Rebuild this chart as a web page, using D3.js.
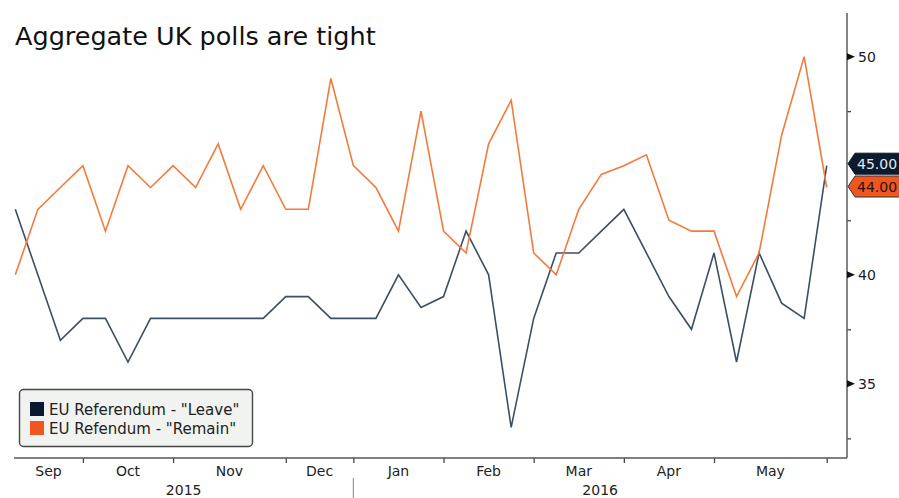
<!DOCTYPE html>
<html>
<head>
<meta charset="utf-8">
<script src="https://cdn.jsdelivr.net/npm/d3@7"></script>
<style>
  body { margin: 0; background: #fff; }
  text { font-family: "DejaVu Sans", Verdana, sans-serif; }
</style>
</head>
<body>
<div id="chart"></div>
<script>
// Weekly poll aggregates, Aug 2015 - May 2016
const leave = [43, 40, 37, 38, 38, 36, 38, 38, 38, 38, 38, 38, 39, 39, 38, 38, 38, 40, 38.5, 39,
  42, 40, 33, 38, 41, 41, 42, 43, 41, 39, 37.5, 41, 36, 41, 38.7, 38, 45];
const remain = [40, 43, 44, 45, 42, 45, 44, 45, 44, 46, 43, 45, 43, 43, 49, 45, 44, 42, 47.5, 42,
  41, 46, 48, 41, 40, 43, 44.6, 45, 45.5, 42.5, 42, 42, 39, 41, 46.4, 50, 44];

// index of first week in each month (tick boundaries)
const monthStarts = [3, 7, 12, 15, 19, 23, 27, 31, 36];
const monthLabels = ["Sep", "Oct", "Nov", "Dec", "Jan", "Feb", "Mar", "Apr", "May"];
const yearLabels = ["2015", "2016"];
const yearStart = 15;

const yMajor = [35, 40, 45, 50];
const yMinor = [32.5, 37.5, 42.5, 47.5];

const seriesNames = ['EU Referendum - "Leave"', 'EU Refendum - "Remain"'];
const lineColors = ["#3b4f65", "#f37a3a"];
const swatchColors = ["#0c1a2e", "#f0561f"];

const w = 899;
const h = 498;
const plotLeft = 14;
const plotRight = 847;
const plotTop = 13;
const plotBottom = 458;

const svg = d3
  .select("#chart")
  .append("svg")
  .attr("width", w)
  .attr("height", h)
  .style("display", "block");

const xScale = d3.scaleLinear().domain([0, 36]).range([15.3, 826.7]);
const yScale = d3.scaleLinear().domain([31.6, 52]).range([plotBottom, plotTop]);

// Title
svg
  .append("text")
  .attr("x", 15)
  .attr("y", 45)
  .style("font-size", "25.5px")
  .style("fill", "#111")
  .text("Aggregate UK polls are tight");

// Lines
const line = d3
  .line()
  .x((d, i) => xScale(i))
  .y((d) => yScale(d));

[leave, remain].forEach((s, k) => {
  svg
    .append("path")
    .datum(s)
    .attr("d", line)
    .attr("fill", "none")
    .attr("stroke", lineColors[k])
    .attr("stroke-width", 1.6)
    .attr("stroke-linejoin", "miter");
});

// Bottom axis
const xAxis = d3
  .axisBottom(xScale)
  .tickValues(monthStarts)
  .tickFormat("")
  .tickSize(5)
  .tickSizeOuter(0);

const gx = svg
  .append("g")
  .attr("transform", `translate(0, ${plotBottom})`)
  .call(xAxis);
gx.select(".domain").remove();
gx.selectAll(".tick line").attr("stroke", "#444").attr("stroke-width", 1.3);

svg
  .append("line")
  .attr("x1", plotLeft)
  .attr("x2", plotRight)
  .attr("y1", plotBottom)
  .attr("y2", plotBottom)
  .attr("stroke", "#555")
  .attr("stroke-width", 1.6);

const bounds = [plotLeft].concat(monthStarts.map((d) => xScale(d)));
monthLabels.forEach((m, i) => {
  svg
    .append("text")
    .attr("x", (bounds[i] + bounds[i + 1]) / 2)
    .attr("y", 476)
    .attr("text-anchor", "middle")
    .style("font-size", "14px")
    .style("fill", "#222")
    .text(m);
});

const yearX = xScale(yearStart);
svg
  .append("line")
  .attr("x1", yearX)
  .attr("x2", yearX)
  .attr("y1", 478)
  .attr("y2", h)
  .attr("stroke", "#999")
  .attr("stroke-width", 1.2);

svg
  .append("text")
  .attr("x", (plotLeft + yearX) / 2)
  .attr("y", 495)
  .attr("text-anchor", "middle")
  .style("font-size", "14px")
  .style("fill", "#222")
  .text(yearLabels[0]);

svg
  .append("text")
  .attr("x", (yearX + plotRight) / 2)
  .attr("y", 495)
  .attr("text-anchor", "middle")
  .style("font-size", "14px")
  .style("fill", "#222")
  .text(yearLabels[1]);

// Right axis
const yAxis = d3
  .axisRight(yScale)
  .tickValues(yMinor)
  .tickFormat("")
  .tickSize(4)
  .tickSizeOuter(0);

const gy = svg
  .append("g")
  .attr("transform", `translate(${plotRight}, 0)`)
  .call(yAxis);
gy.select(".domain").remove();
gy.selectAll(".tick line").attr("stroke", "#444").attr("stroke-width", 1.3);

svg
  .append("line")
  .attr("x1", plotRight)
  .attr("x2", plotRight)
  .attr("y1", plotTop)
  .attr("y2", plotBottom)
  .attr("stroke", "#666")
  .attr("stroke-width", 1.6);

// Last value tags (they hide any major label they sit on)
const fmt = d3.format(".2f");
const tags = [
  { v: leave[leave.length - 1], fill: "#0c1a2e", stroke: "#0c1a2e", text: "#e4eaf2", shift: -2 },
  { v: remain[remain.length - 1], fill: "#f0561f", stroke: "#333", text: "#2a1208", shift: -1 },
];
const tagCenters = tags.map((t) => yScale(t.v) + t.shift);

yMajor
  .filter((v) => tagCenters.every((c) => Math.abs(yScale(v) - c) > 12))
  .forEach((v) => {
    const y = yScale(v);
    svg
      .append("path")
      .attr("d", `M${plotRight},${y - 3.5}L${plotRight + 8},${y}L${plotRight},${y + 3.5}Z`)
      .attr("fill", "#111");
    svg
      .append("text")
      .attr("x", 858)
      .attr("y", y + 5)
      .style("font-size", "14px")
      .style("fill", "#1a1a2a")
      .text(v);
  });

tags.forEach((t, i) => {
  const cy = tagCenters[i];
  svg
    .append("path")
    .attr(
      "d",
      `M${plotRight + 1},${cy}L${plotRight + 8},${cy - 10.5}L${w + 2},${cy - 10.5}L${w + 2},${cy + 10.5}L${plotRight + 8},${cy + 10.5}Z`
    )
    .attr("fill", t.fill)
    .attr("stroke", t.stroke)
    .attr("stroke-width", 1);
  svg
    .append("text")
    .attr("x", 857)
    .attr("y", cy + 5)
    .style("font-size", "14px")
    .style("fill", t.text)
    .text(fmt(t.v));
});

// Legend
svg
  .append("rect")
  .attr("x", 19.5)
  .attr("y", 389.5)
  .attr("width", 233)
  .attr("height", 57)
  .attr("rx", 4)
  .attr("fill", "#f1f3f1")
  .attr("stroke", "#444")
  .attr("stroke-width", 1.4);

seriesNames.forEach((name, i) => {
  svg
    .append("rect")
    .attr("x", 30)
    .attr("y", 402 + i * 19)
    .attr("width", 14)
    .attr("height", 14)
    .attr("fill", swatchColors[i]);
  svg
    .append("text")
    .attr("x", 49)
    .attr("y", 415 + i * 19)
    .style("font-size", "15px")
    .style("fill", "#222")
    .text(name);
});
</script>
</body>
</html>
